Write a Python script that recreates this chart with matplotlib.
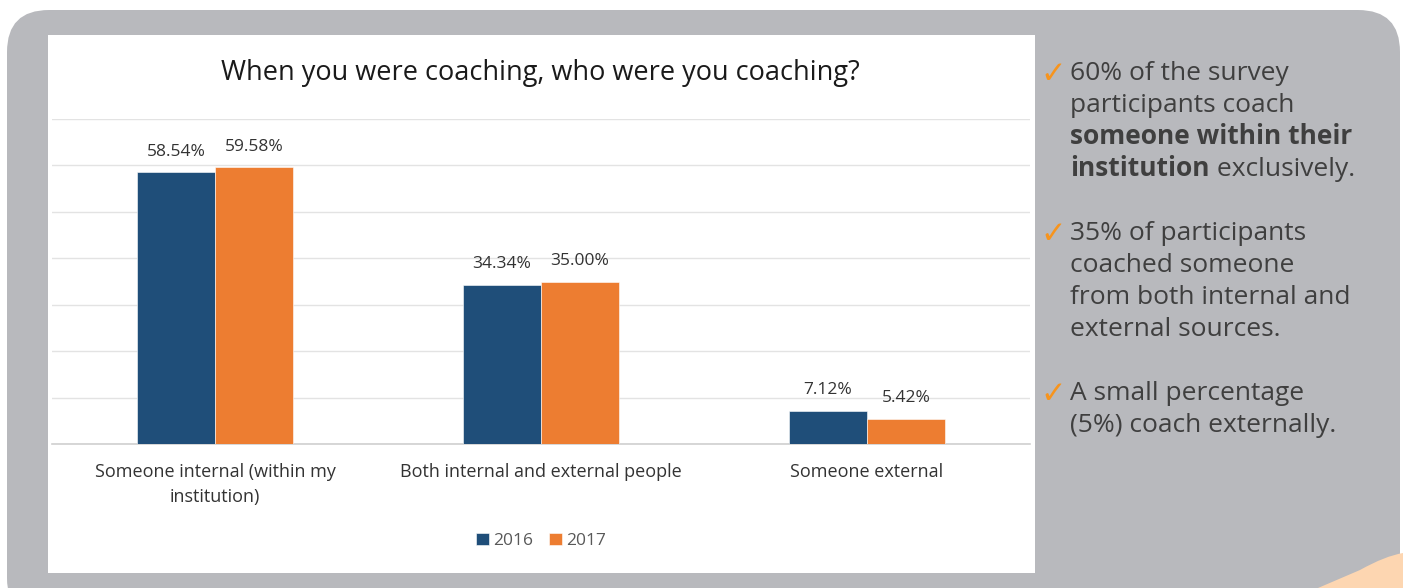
import numpy as np
import matplotlib.pyplot as plt
from matplotlib.patches import FancyBboxPatch, PathPatch, Rectangle
from matplotlib.path import Path

# Survey data
categories = ["Someone internal (within my\ninstitution)",
              "Both internal and external people",
              "Someone external"]
years = ["2016", "2017"]
share_2016 = [58.54, 34.34, 7.12]
share_2017 = [59.58, 35.00, 5.42]

notes = [
    [("60% of the survey", "normal"), ("participants coach", "normal"),
     ("someone within their", "bold"), ("institution", "bold")],
    [("35% of participants", "normal"), ("coached someone", "normal"),
     ("from both internal and", "normal"), ("external sources.", "normal")],
    [("A small percentage", "normal"), ("(5%) coach externally.", "normal")],
]

blue = "#1F4E79"
orange = "#ED7D31"
panel = "#B8B9BD"
note_color = "#3F3F3F"

W, H = 1403, 588
fig = plt.figure(figsize=(W / 100, H / 100), dpi=100)

# Background layer in pixel units
bg = fig.add_axes([0, 0, 1, 1])
bg.set_xlim(0, W)
bg.set_ylim(H, 0)
bg.axis("off")
bg.add_patch(FancyBboxPatch((7, 10), 1393, 610,
                            boxstyle="round,pad=0,rounding_size=42",
                            fc=panel, ec="none"))
bg.add_patch(Rectangle((48, 35), 987, 538, fc="white", ec="none"))
verts = [(1318, 588), (1360, 570), (1385, 556), (1403, 553),
         (1403, 588), (1318, 588)]
codes = [Path.MOVETO, Path.LINETO, Path.CURVE3, Path.CURVE3,
         Path.LINETO, Path.CLOSEPOLY]
bg.add_patch(PathPatch(Path(verts, codes), fc="#FDD6B1", ec="none"))

bg.text(540, 73, "When you were coaching, who were you coaching?",
        ha="center", va="center", fontsize=19.5, color="#1a1a1a",
        family="Open Sans")

# Side notes
y0 = [73, 233, 393]
for block, ys in zip(notes, y0):
    bg.text(1040, ys + 1, "\u2713", ha="left", va="center", fontsize=22,
            color="#F7941D", family="DejaVu Sans")
    for i, (line, weight) in enumerate(block):
        t = bg.text(1070, ys + 32 * i, line, ha="left", va="center",
                    fontsize=19, fontweight=weight, color=note_color,
                    family="Open Sans")
    if block[-1][0] == "institution":
        bg.annotate(" exclusively.", xy=(1, 0.5), xycoords=t,
                    ha="left", va="center", fontsize=19,
                    color=note_color, family="Open Sans")

# Bar chart
ax = fig.add_axes([52 / W, (H - 444) / H, 978 / W, 325 / H])
x = np.arange(len(categories))
bw = 0.24
b1 = ax.bar(x - bw / 2, share_2016, bw, color=blue, edgecolor="white",
            linewidth=0.4, label=years[0], zorder=3)
b2 = ax.bar(x + bw / 2, share_2017, bw, color=orange, edgecolor="white",
            linewidth=0.4, label=years[1], zorder=3)
for bars in (b1, b2):
    for r in bars:
        ax.annotate(f"{r.get_height():.2f}%",
                    (r.get_x() + r.get_width() / 2, r.get_height()),
                    xytext=(0, 9), textcoords="offset points",
                    ha="center", va="bottom", fontsize=12.5,
                    color="#333333", family="Open Sans")

ax.set_xlim(-0.5, 2.5)
ax.set_ylim(0, 70)
ax.set_yticks(np.arange(0, 71, 10))
ax.yaxis.grid(True, color="#E3E3E3", linewidth=1)
ax.set_axisbelow(True)
ax.tick_params(axis="y", left=False, labelleft=False)
ax.tick_params(axis="x", length=0, pad=14)
ax.set_xticks(x)
ax.set_xticklabels(categories, fontsize=13, color="#333333",
                   family="Open Sans", linespacing=1.45)
for s in ("top", "right", "left"):
    ax.spines[s].set_visible(False)
ax.spines["bottom"].set_color("#D0D0D0")
ax.spines["bottom"].set_linewidth(1.2)
ax.patch.set_alpha(0)

ax.legend(loc="center", bbox_to_anchor=(0.5, -0.298), ncol=2,
          frameon=False, handlelength=0.75, handleheight=0.75,
          handletextpad=0.25, columnspacing=0.9,
          prop={"family": "Open Sans", "size": 12.5},
          labelcolor="#595959")

fig.savefig("out.png", dpi=100)
